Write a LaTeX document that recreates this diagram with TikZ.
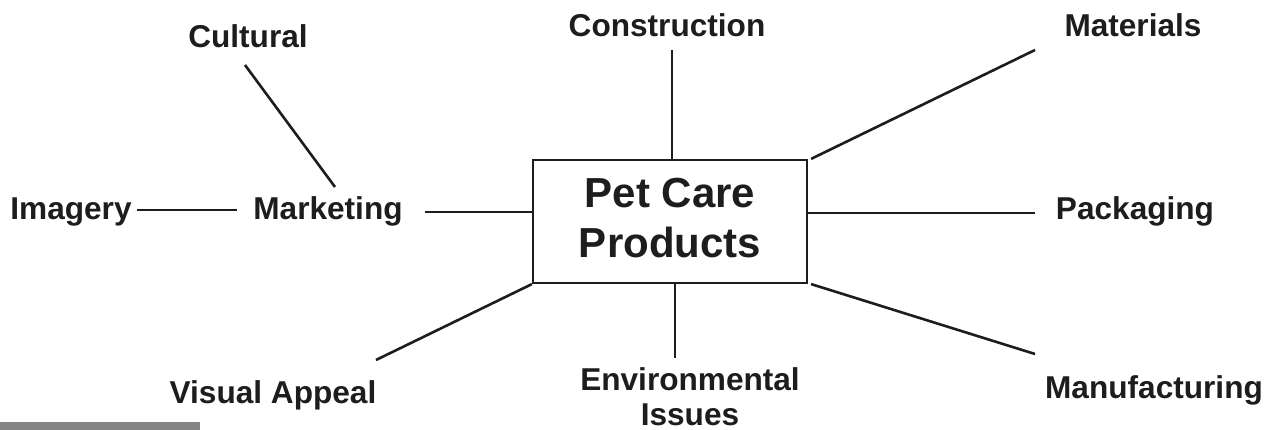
\documentclass[tikz,border=0pt]{standalone}
\usepackage{fontspec}
\setmainfont{Liberation Sans}
\definecolor{barcol}{HTML}{858585}
\definecolor{ink}{HTML}{1E1C1D}
\tikzset{
  lbl/.style={font=\bfseries\fontsize{31.6}{35}\selectfont, text=ink, inner sep=0pt, anchor=base},
  thick line/.style={draw=ink, line width=2.6pt},
  thin line/.style={draw=ink, line width=1.8pt},
  mainbox/.style={draw=ink, line width=2.2pt, minimum width=274pt, minimum height=123pt, inner sep=0pt},
  title/.style={font=\bfseries\fontsize{42}{50}\selectfont, text=ink, align=center, inner sep=0pt}
}
\begin{document}
\begin{tikzpicture}[x=1pt,y=-1pt]
\useasboundingbox (0,0) rectangle (1274,430);
\fill[barcol] (0,422) rectangle (200,430);

% central box
\node[mainbox] (box) at (670,221.5) {};
\node[title] (ttl) at (670,218) {Pet Care\\Products};

% labels
\node[lbl] (cult) at (248,48) {Cultural};
\node[lbl] (cons) at (667,37) {Construction};
\node[lbl] (mat) at (1133,37) {Materials};
\node[lbl] (img) at (71,220) {Imagery};
\node[lbl] (mkt) at (328,220) {Marketing};
\node[lbl] (pack) at (1135,220) {Packaging};
\node[lbl] (vis) at (273,403) {Visual Appeal};
\node[lbl, align=center, anchor=north] (env) at (690,367) {Environmental\\Issues};
\node[lbl] (man) at (1154,398) {Manufacturing};

% connector end points
\coordinate (cultA) at (245,65);
\coordinate (cultB) at (335,187);
\coordinate (imgA) at (137,210);
\coordinate (imgB) at (237,210);
\coordinate (mktA) at (425,212);
\coordinate (consA) at (672,50);
\coordinate (matA) at (1035,50);
\coordinate (packA) at (1035,213);
\coordinate (manA) at (1035,354);
\coordinate (visA) at (376,360);
\coordinate (envA) at (675,358);

% connectors
\draw[thick line] (cultA) -- (cultB);
\draw[thick line] (imgA) -- (imgB);
\draw[thin line] (mktA) -- (box.west |- mktA);
\draw[thin line] (consA) -- (consA |- box.north);
\draw[thick line] ([xshift=3pt]box.north east) -- (matA);
\draw[thin line] (box.east |- packA) -- (packA);
\draw[thick line] ([xshift=3pt]box.south east) -- (manA);
\draw[thick line] (box.south west) -- (visA);
\draw[thin line] (envA |- box.south) -- (envA);
\end{tikzpicture}
\end{document}
